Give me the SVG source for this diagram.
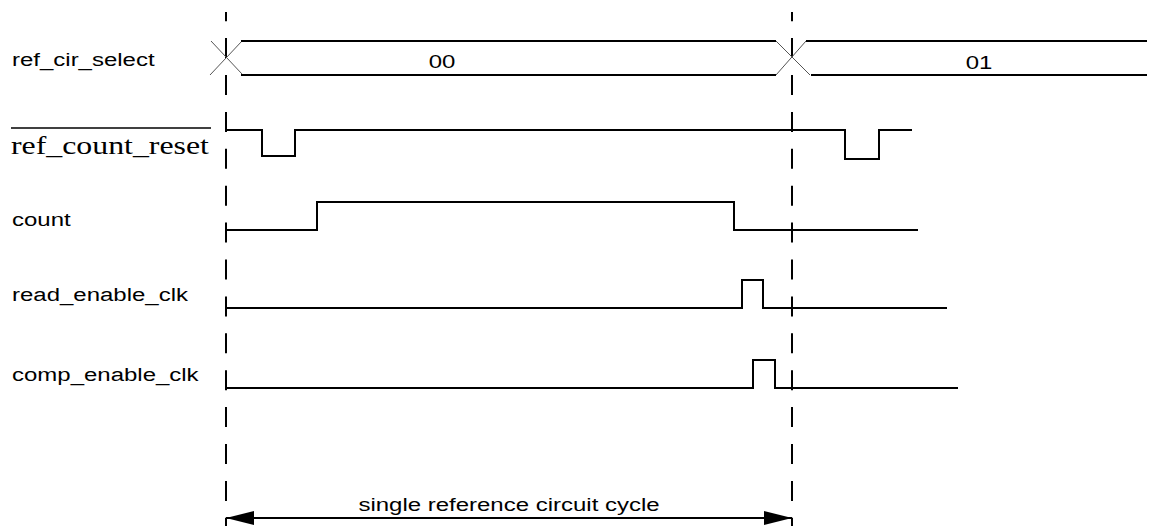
<svg xmlns="http://www.w3.org/2000/svg" width="1156" height="526" viewBox="0 0 1156 526">
<style>
.bg{fill:#ffffff}
.sig{fill:none;stroke:#000;stroke-width:2;stroke-linejoin:miter;stroke-linecap:butt}
.xl{fill:none;stroke:#555;stroke-width:1}
.dash{fill:none;stroke:#000;stroke-width:2;stroke-dasharray:20 16.9;stroke-dashoffset:10.8}
.lbl{font-family:"Liberation Sans",Arial,Helvetica,sans-serif;font-size:19px;fill:#000}
.slbl{font-family:"Liberation Serif","Times New Roman",serif;font-size:25px;fill:#000}
.over{stroke:#000;stroke-width:1.6}
</style>
<defs>
<marker id="ah" markerWidth="28" markerHeight="14" refX="28" refY="7" orient="auto-start-reverse" markerUnits="userSpaceOnUse">
<path d="M0,0 L28,7 L0,14 Z" fill="#000"/>
</marker>
</defs>
<rect class="bg" x="0" y="0" width="1156" height="526"/>

<g id="cycle-markers">
<line class="dash" x1="226" y1="12" x2="226" y2="526"/>
<line class="dash" x1="792" y1="12" x2="792" y2="526"/>
</g>

<g id="ref_cir_select">
<text class="lbl" transform="translate(12,66) scale(1.263,1)">ref_cir_select</text>
<line class="xl" x1="210" y1="75" x2="242" y2="41"/>
<line class="xl" x1="211" y1="41" x2="242" y2="74"/>
<path class="sig" d="M241,41 H776 M241,75 H776"/>
<line class="xl" x1="776" y1="41" x2="810" y2="75"/>
<line class="xl" x1="776" y1="75" x2="806" y2="41"/>
<path class="sig" d="M806,41 H1147 M811,75 H1147"/>
<text class="lbl" transform="translate(442,68) scale(1.263,1)" text-anchor="middle">00</text>
<text class="lbl" transform="translate(979,69) scale(1.263,1)" text-anchor="middle">01</text>
</g>

<g id="ref_count_reset">
<line class="over" x1="11" y1="128" x2="211" y2="128"/>
<text class="slbl" transform="translate(11,154) scale(1.273,1)">ref_count_reset</text>
<path class="sig" d="M226,130 H262 V156 H295 V130 H845 V159 H879 V130 H912"/>
</g>

<g id="count">
<text class="lbl" transform="translate(12,226) scale(1.263,1)">count</text>
<path class="sig" d="M226,230 H317 V202 H734 V230 H918"/>
</g>

<g id="read_enable_clk">
<text class="lbl" transform="translate(12,301) scale(1.263,1)">read_enable_clk</text>
<path class="sig" d="M226,308 H742 V280 H763 V308 H947"/>
</g>

<g id="comp_enable_clk">
<text class="lbl" transform="translate(12,381) scale(1.263,1)">comp_enable_clk</text>
<path class="sig" d="M226,388 H753 V360 H775 V388 H958"/>
</g>

<g id="connectors">
<line class="sig" x1="226" y1="518" x2="792" y2="518" marker-start="url(#ah)" marker-end="url(#ah)"/>
<text class="lbl" transform="translate(509,511) scale(1.263,1)" text-anchor="middle">single reference circuit cycle</text>
</g>
</svg>
